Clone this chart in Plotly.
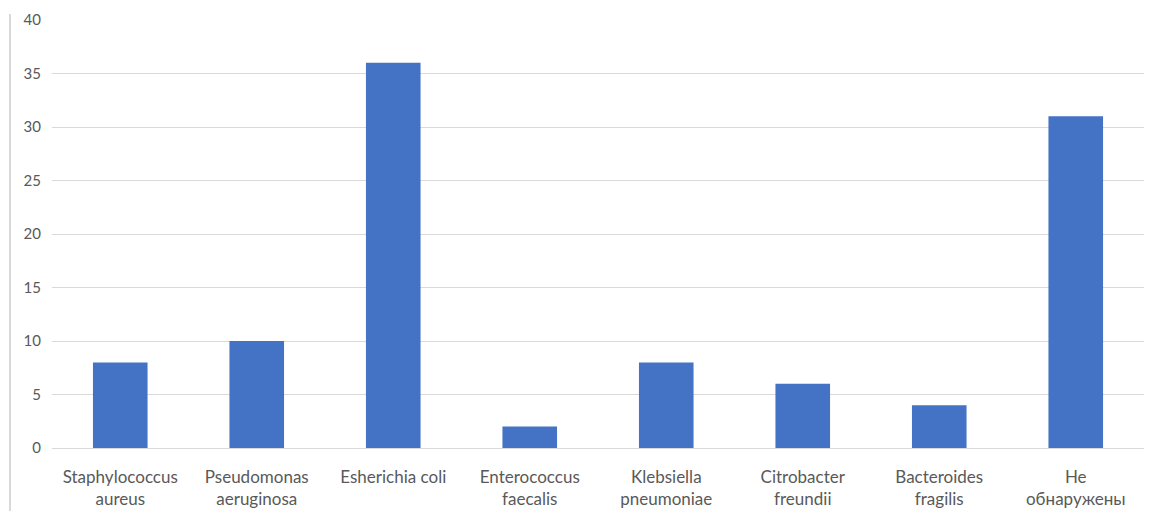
import plotly.graph_objects as go

# Isolated organisms and their counts
categories = [
    "Staphylococcus<br>aureus",
    "Pseudomonas<br>aeruginosa",
    "Esherichia coli",
    "Enterococcus<br>faecalis",
    "Klebsiella<br>pneumoniae",
    "Citrobacter<br>freundii",
    "Bacteroides<br>fragilis",
    "Не<br>обнаружены",
]
counts = [8, 10, 36, 2, 8, 6, 4, 31]
y_ticks = [0, 5, 10, 15, 20, 25, 30, 35, 40]

TEXT = "#595959"
FONT = "Lato, Calibri, sans-serif"

fig = go.Figure(
    go.Bar(
        x=categories,
        y=counts,
        marker=dict(color="#4472C4", line=dict(width=0)),
        width=0.4,
    )
)

fig.update_layout(
    width=1168,
    height=511,
    margin=dict(l=52, r=24, t=20, b=63),
    paper_bgcolor="white",
    plot_bgcolor="white",
    showlegend=False,
    font=dict(family=FONT, size=15, color=TEXT),
    bargap=0.6,
)

fig.update_yaxes(
    range=[0, 40],
    tickvals=y_ticks,
    showgrid=True,
    gridcolor="#D9D9D9",
    gridwidth=1,
    zeroline=True,
    zerolinecolor="#D9D9D9",
    zerolinewidth=1,
    showline=False,
    ticks="",
    automargin=False,
    ticklabelstandoff=10,
    tickfont=dict(family=FONT, size=15, color=TEXT),
)
fig.update_xaxes(
    showgrid=False,
    showline=False,
    ticks="",
    tickangle=0,
    automargin=False,
    ticklabelstandoff=17,
    tickfont=dict(family=FONT, size=17, color=TEXT),
)

# Thin frame line on the left edge of the chart area
fig.add_shape(
    type="line",
    xref="paper", yref="paper",
    x0=-42 / 1092, x1=-42 / 1092,
    y0=-63 / 428, y1=(428 + 6) / 428,
    line=dict(color="#D9D9D9", width=2),
)

fig.write_html("out.html")
